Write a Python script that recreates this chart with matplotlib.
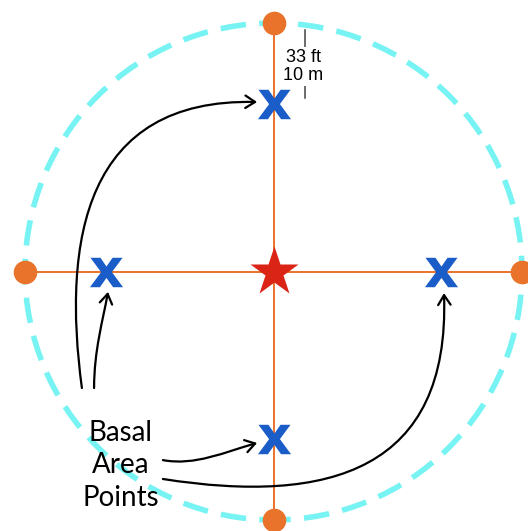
import numpy as np
import matplotlib
matplotlib.use('Agg')
import matplotlib.pyplot as plt
from matplotlib.patches import Circle, FancyArrowPatch
from matplotlib.path import Path
from matplotlib.textpath import TextPath
from matplotlib.font_manager import FontProperties

# plot layout in units of the plot radius (centre stake at 0,0)
plot_radius = 1.0
edge_points = [(0, 1), (-1, 0), (1, 0), (0, -1)]          # orange stakes on the boundary
basal_points = [(0, 0.675), (-0.675, 0), (0.675, 0), (0, -0.675)]
centre = (0, 0)
scale_labels = ['33 ft', '10 m']
scale_bar = [(0.127, 0.972), (0.127, 0.698)]
label_text = 'Basal\nArea\nPoints'
label_pos = (-0.615, -0.78)

# curved callout arrows, cubic bezier control points
arrows = [
    [(-0.771, -0.469), (-0.851, 0.127), (-0.759, 0.698), (-0.066, 0.682)],
    [(-0.722, -0.469), (-0.722, -0.316), (-0.686, -0.195), (-0.666, -0.082)],
    [(-0.445, -0.759), (-0.316, -0.783), (-0.195, -0.726), (-0.066, -0.690)],
    [(-0.445, -0.835), (0.227, -0.940), (0.710, -0.799), (0.686, -0.087)],
]

orange = '#e9732a'
cyan = '#78f3f3'
blue = '#1a5cc8'
red = '#da2516'

fig = plt.figure(figsize=(5.28, 5.31), dpi=100)
ax = fig.add_axes([0, 0, 1, 1])
ax.set_xlim(-1.1006, 1.0241)
ax.set_ylim(-1.0443, 1.0926)
ax.axis('off')

# boundary
ax.add_patch(Circle(centre, plot_radius, fill=False, ec=cyan, lw=4,
                    ls=(1.5, (4.6, 2.4)), zorder=1))

# cross lines through the centre
ex = [p[0] for p in edge_points]
ey = [p[1] for p in edge_points]
ax.plot([ex[1], ex[2]], [ey[1], ey[2]], color=orange, lw=1.4, zorder=2)
ax.plot([ex[0], ex[3]], [ey[0], ey[3]], color=orange, lw=1.4, zorder=2)
ax.plot(ex, ey, 'o', color=orange, ms=17, mec='none', zorder=3)

# basal area points as bold x glyphs
tp = TextPath((0, 0), 'x', prop=FontProperties(family='DejaVu Sans', weight='bold'))
verts = tp.vertices.copy()
ext = tp.get_extents()
verts[:, 0] -= (ext.x0 + ext.x1) / 2
verts[:, 1] -= (ext.y0 + ext.y1) / 2
xmark = Path(verts, tp.codes)
bx = [p[0] for p in basal_points]
by = [p[1] for p in basal_points]
ax.plot(bx, by, ls='none', marker=xmark, ms=25, color=blue, mec='none', zorder=4)

# centre stake
ax.plot(*centre, marker='*', ms=37, color=red, mec='none', zorder=5)

# scale bar
sx = [p[0] for p in scale_bar]
sy = [p[1] for p in scale_bar]
ax.plot(sx, sy, color='#444444', lw=1.1, zorder=2)
ax.text(sx[0] - 0.008, (sy[0] + sy[1]) / 2 - 0.01, '\n'.join(scale_labels), ha='center', va='center',
        fontsize=13, family='Liberation Sans', linespacing=1.05, zorder=6,
        bbox=dict(fc='white', ec='none', pad=1.5))

# callout arrows
codes = [Path.MOVETO, Path.CURVE4, Path.CURVE4, Path.CURVE4]
for pts in arrows:
    ax.add_patch(FancyArrowPatch(path=Path(pts, codes), arrowstyle='->,head_length=7,head_width=4.5',
                                 mutation_scale=1, lw=1.6, color='black', zorder=6))

ax.text(label_pos[0], label_pos[1], label_text, ha='center', va='center', fontsize=20,
        family='Lato', linespacing=1.3, zorder=6)

fig.savefig('out.png', dpi=100)
